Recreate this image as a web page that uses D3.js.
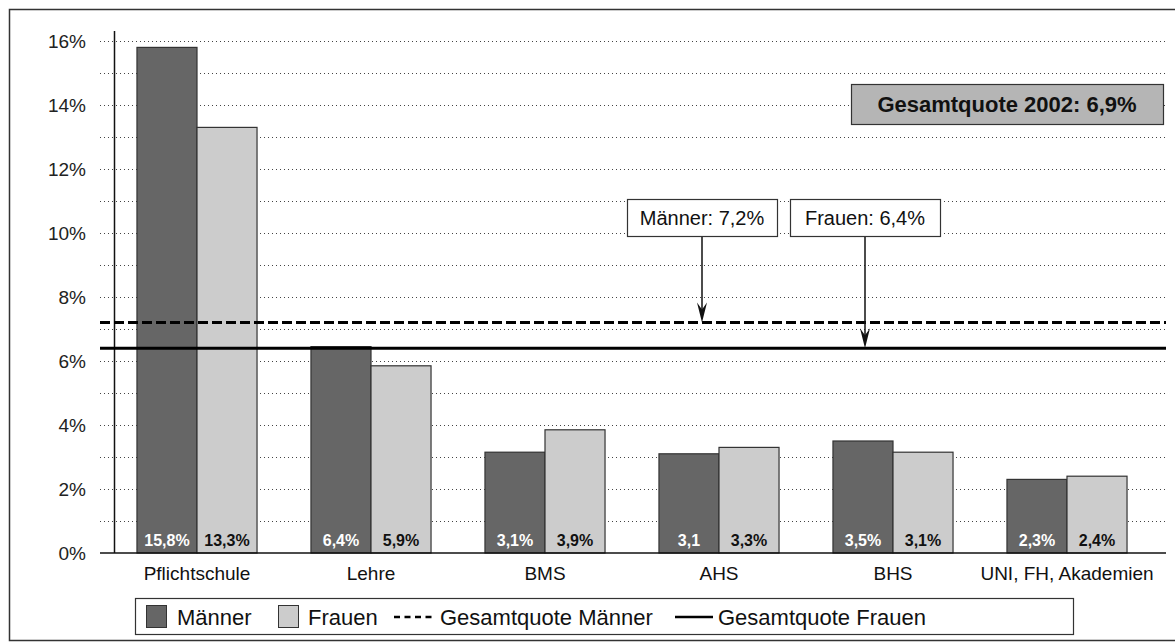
<!DOCTYPE html>
<html>
<head>
<meta charset="utf-8">
<script src="https://cdn.jsdelivr.net/npm/d3@7"></script>
<style>
  body { margin: 0; background: #fff; }
  svg text { font-family: "Liberation Sans", Arial, sans-serif; }
</style>
</head>
<body>
<div id="chart"></div>
<script>
// data
var categories = ["Pflichtschule", "Lehre", "BMS", "AHS", "BHS", "UNI, FH, Akademien"];
var maenner = [15.8, 6.45, 3.15, 3.1, 3.5, 2.3];
var frauen = [13.3, 5.85, 3.85, 3.3, 3.15, 2.4];
var maennerLabels = ["15,8%", "6,4%", "3,1%", "3,1", "3,5%", "2,3%"];
var frauenLabels = ["13,3%", "5,9%", "3,9%", "3,3%", "3,1%", "2,4%"];
var yTicks = [0, 2, 4, 6, 8, 10, 12, 14, 16];
var quoteMaenner = 7.2;
var quoteFrauen = 6.4;
var gesamtText = "Gesamtquote 2002: 6,9%";
var legendItems = ["Männer", "Frauen", "Gesamtquote Männer", "Gesamtquote Frauen"];

var W = 1175, H = 643;
var dark = "#666666", light = "#cccccc", edge = "#333333";

var svg = d3.select("#chart")
  .append("svg")
    .attr("width", W)
    .attr("height", H);

// outer frame (cut off on the right like the original)
svg.append("rect")
  .attr("x", 9.5).attr("y", 9.5)
  .attr("width", 1200).attr("height", 631)
  .attr("fill", "none")
  .attr("stroke", edge)
  .attr("stroke-width", 1.5);

var y = d3.scaleLinear()
  .domain([0, 16])
  .range([553, 41]);

var x = d3.scaleBand()
  .domain(categories)
  .range([110, 1154])
  .paddingInner(0.31)
  .paddingOuter(0.155);

var xSub = d3.scaleBand()
  .domain(["m", "f"])
  .range([0, x.bandwidth()])
  .padding(0);

var gridLeft = 100, gridRight = 1166;

// dotted grid every 1%
svg.append("g")
  .selectAll("line")
  .data(d3.range(1, 17))
  .enter()
    .append("line")
    .attr("x1", gridLeft)
    .attr("x2", gridRight)
    .attr("y1", d => Math.round(y(d)) + 0.5)
    .attr("y2", d => Math.round(y(d)) + 0.5)
    .attr("stroke", "#444")
    .attr("stroke-width", 1)
    .attr("stroke-dasharray", "1,3");

// y axis labels
var yAxis = svg.append("g")
  .attr("transform", "translate(86,0)")
  .call(d3.axisLeft(y)
    .tickValues(yTicks)
    .tickSize(0)
    .tickPadding(0)
    .tickFormat(d => d + "%"));
yAxis.select(".domain").remove();
yAxis.selectAll("text")
  .attr("font-size", 19)
  .attr("fill", "#222")
  .attr("font-family", "Liberation Sans, Arial, sans-serif");

// vertical axis line
svg.append("line")
  .attr("x1", 114.5).attr("x2", 114.5)
  .attr("y1", 31).attr("y2", y(0))
  .attr("stroke", "#111").attr("stroke-width", 1.5);

// bars
var groups = svg.append("g")
  .selectAll("g")
  .data(categories)
  .enter()
    .append("g")
    .attr("transform", d => "translate(" + x(d) + ",0)");

groups.append("rect")
  .attr("x", xSub("m"))
  .attr("y", (d, i) => y(maenner[i]))
  .attr("width", xSub.bandwidth())
  .attr("height", (d, i) => y(0) - y(maenner[i]))
  .attr("fill", dark)
  .attr("stroke", edge)
  .attr("stroke-width", 1.2);

groups.append("rect")
  .attr("x", xSub("f"))
  .attr("y", (d, i) => y(frauen[i]))
  .attr("width", xSub.bandwidth())
  .attr("height", (d, i) => y(0) - y(frauen[i]))
  .attr("fill", light)
  .attr("stroke", edge)
  .attr("stroke-width", 1.2);

groups.append("text")
  .attr("x", xSub("m") + xSub.bandwidth() / 2)
  .attr("y", 546)
  .attr("text-anchor", "middle")
  .attr("font-size", 16)
  .attr("font-weight", "bold")
  .attr("fill", "#fff")
  .text((d, i) => maennerLabels[i]);

groups.append("text")
  .attr("x", xSub("f") + xSub.bandwidth() / 2)
  .attr("y", 546)
  .attr("text-anchor", "middle")
  .attr("font-size", 16)
  .attr("font-weight", "bold")
  .attr("fill", "#111")
  .text((d, i) => frauenLabels[i]);

// baseline
svg.append("line")
  .attr("x1", gridLeft).attr("x2", gridRight)
  .attr("y1", y(0)).attr("y2", y(0))
  .attr("stroke", "#111").attr("stroke-width", 1.5);

// category labels
var xAxis = svg.append("g")
  .attr("transform", "translate(0,566)")
  .call(d3.axisBottom(x).tickSize(0).tickPadding(0));
xAxis.select(".domain").remove();
xAxis.selectAll("text")
  .attr("font-size", 19)
  .attr("fill", "#111")
  .attr("font-family", "Liberation Sans, Arial, sans-serif");

// overall rate lines
svg.append("line")
  .attr("x1", gridLeft).attr("x2", gridRight)
  .attr("y1", y(quoteMaenner)).attr("y2", y(quoteMaenner))
  .attr("stroke", "#000").attr("stroke-width", 3)
  .attr("stroke-dasharray", "10,4");

svg.append("line")
  .attr("x1", gridLeft).attr("x2", gridRight)
  .attr("y1", y(quoteFrauen)).attr("y2", y(quoteFrauen))
  .attr("stroke", "#000").attr("stroke-width", 3);

// callouts with arrows
var callouts = [
  { text: "Männer: " + String(quoteMaenner).replace(".", ",") + "%", val: quoteMaenner, bx: 627, ax: 702 },
  { text: "Frauen: " + String(quoteFrauen).replace(".", ",") + "%", val: quoteFrauen, bx: 790, ax: 865 }
];

callouts.forEach(c => {
  svg.append("rect")
    .attr("x", c.bx + 0.5).attr("y", 199.5)
    .attr("width", 150).attr("height", 37)
    .attr("fill", "#fff")
    .attr("stroke", edge).attr("stroke-width", 1.2);
  svg.append("text")
    .attr("x", c.bx + 75).attr("y", 225)
    .attr("text-anchor", "middle")
    .attr("font-size", 20)
    .attr("fill", "#111")
    .text(c.text);
  var tip = y(c.val);
  svg.append("line")
    .attr("x1", c.ax).attr("x2", c.ax)
    .attr("y1", 237).attr("y2", tip - 10)
    .attr("stroke", "#111").attr("stroke-width", 1.5);
  svg.append("path")
    .attr("d", "M" + (c.ax - 5) + "," + (tip - 20) + " L" + c.ax + "," + (tip - 13) +
               " L" + (c.ax + 5) + "," + (tip - 20) + " L" + c.ax + "," + tip + " Z")
    .attr("fill", "#111");
});

// total rate box
svg.append("rect")
  .attr("x", 851.5).attr("y", 84.5)
  .attr("width", 312).attr("height", 40)
  .attr("fill", "#b5b5b5")
  .attr("stroke", edge).attr("stroke-width", 1.2);
svg.append("text")
  .attr("x", 1007).attr("y", 112)
  .attr("text-anchor", "middle")
  .attr("font-size", 22)
  .attr("font-weight", "bold")
  .attr("fill", "#111")
  .text(gesamtText);

// legend
var legend = svg.append("g");
legend.append("rect")
  .attr("x", 135.5).attr("y", 598.5)
  .attr("width", 938).attr("height", 36)
  .attr("fill", "#fff")
  .attr("stroke", edge).attr("stroke-width", 1.2);

var lfs = 22, ly = 625;
function legendText(t, lx) {
  legend.append("text")
    .attr("x", lx).attr("y", ly)
    .attr("font-size", lfs)
    .attr("fill", "#111")
    .text(t);
}

legend.append("rect")
  .attr("x", 146.5).attr("y", 605.5)
  .attr("width", 20).attr("height", 22)
  .attr("fill", dark).attr("stroke", edge);
legendText(legendItems[0], 177);

legend.append("rect")
  .attr("x", 278.5).attr("y", 605.5)
  .attr("width", 20).attr("height", 22)
  .attr("fill", light).attr("stroke", edge);
legendText(legendItems[1], 308);

legend.append("line")
  .attr("x1", 394).attr("x2", 434)
  .attr("y1", 617).attr("y2", 617)
  .attr("stroke", "#000").attr("stroke-width", 2.5)
  .attr("stroke-dasharray", "6,4.5");
legendText(legendItems[2], 440);

legend.append("line")
  .attr("x1", 675).attr("x2", 713)
  .attr("y1", 617).attr("y2", 617)
  .attr("stroke", "#000").attr("stroke-width", 2.5);
legendText(legendItems[3], 718);
</script>
</body>
</html>
